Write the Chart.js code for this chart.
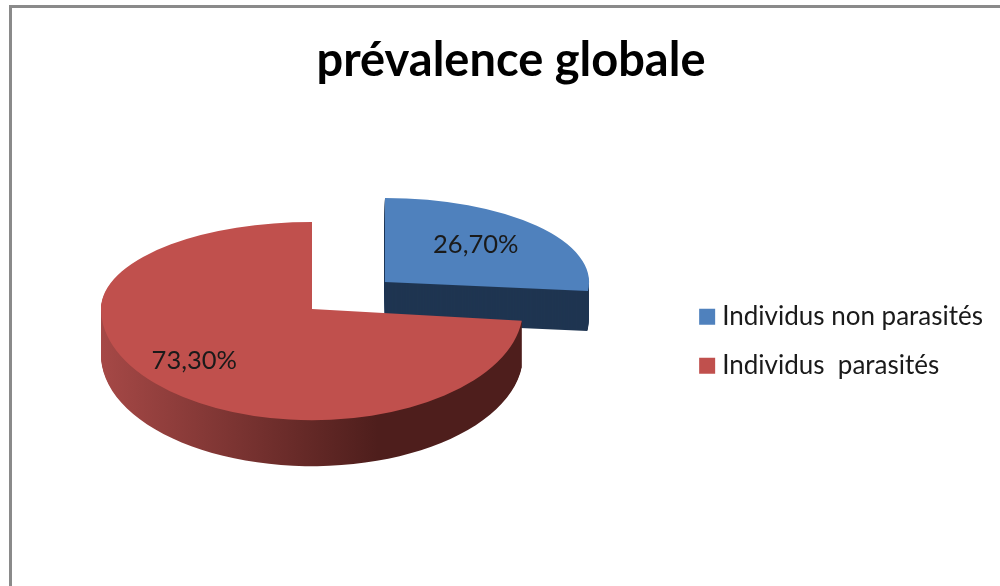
<!DOCTYPE html>
<html lang="fr">
<head>
<meta charset="UTF-8"/>
<title>prévalence globale</title>
<script src="https://cdn.jsdelivr.net/npm/chart.js"></script>
<style>
  html, body { margin: 0; background: #fff; }
  .wrap { position: relative; width: 1000px; height: 586px; overflow: hidden; }
  .frame { position: absolute; left: 9px; top: 5px; right: -10px; bottom: -10px;
           border-top: 3px solid #8a8a8a; border-left: 3px solid #8a8a8a; }
  canvas { position: absolute; left: 0; top: 0; }
</style>
</head>
<body>
<div class="wrap">
  <div class="frame"></div>
  <canvas id="myChart" width="1000" height="586"></canvas>
</div>
<script>
var chartTitle = 'prévalence globale';
var categories = ['Individus non parasités', 'Individus  parasités'];
var values = [26.7, 73.3];

var topColors = ['#4F81BD', '#C0504D'];

// fake 3D: where the pie apex lands, and how much the flat pie is squashed
var apexX = 312, apexY = 309;
var squashUp = 0.412, squashDown = 0.527;
var sliceOffsets = [392, 0];   // chart.js moves a slice by offset / 4
var sliceScale = [0.965, 1];
var depths = [40, 46];
var labelFractions = [0.60, 0.75];

function rimPath(ctx, arc, i, dy) {
    var off = sliceOffsets[i] / 4;
    var mid = (arc.startAngle + arc.endAngle) / 2;
    var ox = Math.cos(mid) * off, oy = Math.sin(mid) * off;
    var steps = 80;
    ctx.beginPath();
    for (var s = -1; s <= steps; s++) {
        var fx = ox, fy = oy;
        if (s >= 0) {
            var a = arc.startAngle + (arc.endAngle - arc.startAngle) * s / steps;
            fx += arc.outerRadius * Math.cos(a);
            fy += arc.outerRadius * Math.sin(a);
        }
        var sy = apexY + fy * (fy < 0 ? squashUp : squashDown) + dy;
        if (s < 0) ctx.moveTo(apexX + fx, sy); else ctx.lineTo(apexX + fx, sy);
    }
    ctx.closePath();
}

function drawTop(ctx, arc, upper) {
    ctx.save();
    ctx.beginPath();
    if (upper) ctx.rect(0, 0, 1000, apexY); else ctx.rect(0, apexY, 1000, 586 - apexY);
    ctx.clip();
    ctx.translate(apexX, apexY);
    ctx.scale(1, upper ? squashUp : squashDown);
    ctx.translate(-arc.x, -arc.y);
    arc.draw(ctx);
    ctx.restore();
}

var pie3d = {
    id: 'pie3d',
    afterDatasetsUpdate: function(chart) {
        chart.getDatasetMeta(0).data.forEach(function(arc, i) {
            arc.outerRadius = arc.outerRadius * sliceScale[i];
        });
    },
    beforeDatasetsDraw: function(chart) {
        var ctx = chart.ctx;
        var arcs = chart.getDatasetMeta(0).data;

        var redSide = ctx.createLinearGradient(103, 0, 378, 0);
        redSide.addColorStop(0, '#A54846');
        redSide.addColorStop(1, '#4E1E1C');
        var sideFills = ['#1F3551', redSide];

        // sides first, then the top faces, red over blue
        arcs.forEach(function(arc, i) {
            ctx.save();
            ctx.fillStyle = sideFills[i];
            for (var d = depths[i]; d > 0; d--) {
                rimPath(ctx, arc, i, d);
                ctx.fill();
            }
            ctx.restore();
        });
        arcs.forEach(function(arc) {
            drawTop(ctx, arc, true);
            drawTop(ctx, arc, false);
        });

        // percent labels
        ctx.save();
        ctx.font = '25.5px Lato';
        ctx.fillStyle = '#1a1a1a';
        ctx.textAlign = 'center';
        ctx.textBaseline = 'middle';
        arcs.forEach(function(arc, i) {
            var mid = (arc.startAngle + arc.endAngle) / 2;
            var r = sliceOffsets[i] / 4 + arc.outerRadius * labelFractions[i];
            var fx = r * Math.cos(mid), fy = r * Math.sin(mid);
            var txt = values[i].toFixed(2).replace('.', ',') + '%';
            ctx.fillText(txt, apexX + fx, apexY + fy * (fy < 0 ? squashUp : squashDown) - 4);
        });
        ctx.restore();
        return false;
    }
};

new Chart(document.getElementById('myChart'), {
    type: 'pie',
    data: {
        labels: categories,
        datasets: [{
            data: values,
            backgroundColor: topColors,
            offset: sliceOffsets,
            borderWidth: 0
        }]
    },
    plugins: [pie3d],
    options: {
        responsive: false,
        animation: false,
        radius: 211,
        layout: { padding: { left: 29, right: 7 } },
        plugins: {
            tooltip: { enabled: false },
            title: {
                display: true,
                text: chartTitle,
                color: '#000',
                font: { family: 'Lato', size: 47, weight: 'bold' },
                padding: { top: 33, bottom: 7 }
            },
            legend: {
                position: 'right',
                fullSize: false,
                labels: {
                    font: { family: 'Lato', size: 26 },
                    color: '#1a1a1a',
                    usePointStyle: true,
                    pointStyle: 'rect',
                    boxWidth: 4,
                    boxHeight: 16,
                    padding: 23
                }
            }
        }
    }
});
</script>
</body>
</html>
